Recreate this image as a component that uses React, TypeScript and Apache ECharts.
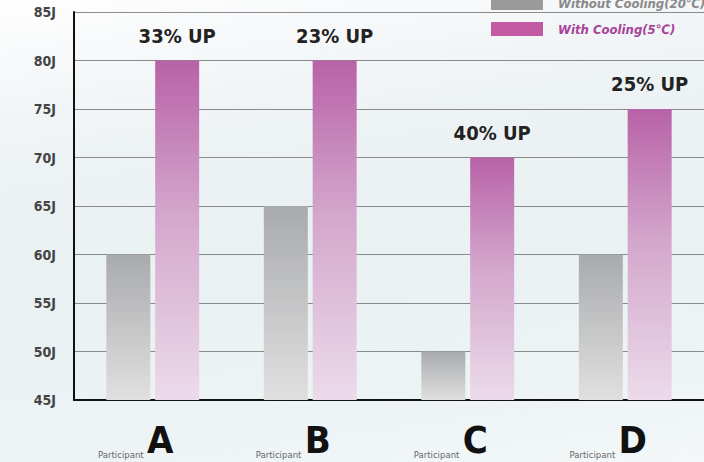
import React, { useEffect, useRef } from "react";
import * as echarts from "echarts";

const participants = ["A", "B", "C", "D"];
const withoutCooling = [60, 65, 50, 60];
const withCooling = [80, 80, 70, 75];
const upLabels = ["33% UP", "23% UP", "40% UP", "25% UP"];
const seriesNames = ["Without Cooling(20℃)", "With Cooling(5℃)"];

const NARROW = "'DejaVu Sans Condensed', sans-serif";

export default function App() {
  const ref = useRef<HTMLDivElement>(null);
  useEffect(() => {
    document.body.style.margin = "0";
    const chart = echarts.init(ref.current!, null, { renderer: "svg" });
    chart.setOption({
      animation: false,
      backgroundColor: "transparent",
      grid: { left: 74, top: 12, width: 633, height: 388, containLabel: false },
      legend: {
        orient: "vertical",
        left: 486,
        top: -9,
        itemWidth: 52,
        itemHeight: 14,
        itemGap: 12,
        icon: "rect",
        textStyle: { fontFamily: NARROW, fontSize: 13, fontWeight: "bold", fontStyle: "italic", padding: [0, 0, 0, 10] },
        data: [
          { name: seriesNames[0], itemStyle: { color: "#9a9a9a" }, textStyle: { color: "#8a8a8a" } },
          { name: seriesNames[1], itemStyle: { color: "#c45aa3" }, textStyle: { color: "#a8439a" } },
        ],
      },
      xAxis: {
        type: "category",
        data: participants,
        axisLine: { show: true, lineStyle: { color: "#111", width: 2 } },
        axisTick: { show: false },
        axisLabel: {
          margin: 29,
          padding: [0, 34, 0, 0],
          formatter: (v: string) => `{s|Participant} {b|${v}}`,
          rich: {
            s: { fontFamily: NARROW, fontSize: 9.5, color: "#666", verticalAlign: "bottom", lineHeight: 14 },
            b: { fontFamily: NARROW, fontSize: 38, fontWeight: "bold", color: "#111", lineHeight: 30, verticalAlign: "bottom" },
          },
        },
      },
      yAxis: {
        type: "value",
        min: 45,
        max: 85,
        interval: 5,
        axisLine: { show: true, lineStyle: { color: "#111", width: 2 } },
        axisTick: { show: false },
        axisLabel: {
          margin: 18,
          formatter: "{value}J",
          fontFamily: NARROW,
          fontSize: 14,
          fontWeight: "bold",
          color: "#444",
        },
        splitLine: { show: true, lineStyle: { color: "#8a8a8a", width: 1 } },
      },
      series: [
        {
          name: seriesNames[0],
          type: "bar",
          data: withoutCooling,
          barWidth: 44,
          barGap: "11%",
          itemStyle: {
            color: new echarts.graphic.LinearGradient(0, 0, 0, 1, [
              { offset: 0, color: "#a9aaac" },
              { offset: 1, color: "#e0e0e0" },
            ]),
          },
        },
        {
          name: seriesNames[1],
          type: "bar",
          data: withCooling,
          barWidth: 44,
          itemStyle: {
            color: new echarts.graphic.LinearGradient(0, 0, 0, 1, [
              { offset: 0, color: "#b862a7" },
              { offset: 0.45, color: "#d3a6cc" },
              { offset: 1, color: "#ecdbea" },
            ]),
          },
          label: {
            show: true,
            position: "top",
            distance: 15,
            formatter: (p: any) => upLabels[p.dataIndex],
            fontFamily: NARROW,
            fontSize: 20,
            fontWeight: "bold",
            color: "#222",
          },
        },
      ],
    });
    return () => chart.dispose();
  }, []);
  return (
    <div
      style={{
        position: "absolute",
        left: 0,
        top: 0,
        width: 704,
        height: 462,
        background: "linear-gradient(172deg, #ffffff 0%, #f8f9fa 10%, #edf2f4 30%, #e9f1f3 60%, #eef4f6 85%, #f3f7f8 100%)",
      }}
    >
      <div ref={ref} style={{ width: 704, height: 462 }} />
    </div>
  );
}
